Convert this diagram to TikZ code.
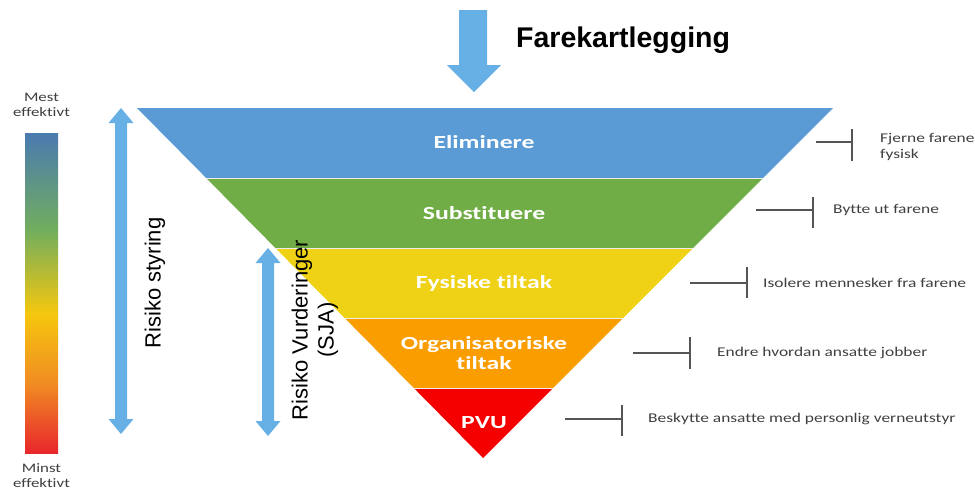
\documentclass[tikz,border=0pt]{standalone}
\usepackage{fontspec}
\setmainfont{Liberation Sans}
\newfontfamily\calfont[FakeStretch=1.3,Ligatures=NoCommon]{Carlito}
\newfontfamily\calbfont[FakeStretch=1.39,Ligatures=NoCommon]{Carlito}
\definecolor{arrowblue}{HTML}{66B0E6}
\definecolor{lblue}{HTML}{5B9BD5}
\definecolor{lgreen}{HTML}{70AD47}
\definecolor{lyellow}{HTML}{EFD215}
\definecolor{lorange}{HTML}{FA9D00}
\definecolor{lred}{HTML}{F50000}
\definecolor{gblue}{HTML}{4A7AB0}
\definecolor{ggreen}{HTML}{72AE5E}
\definecolor{gyellow}{HTML}{F5C70E}
\definecolor{gorange}{HTML}{F08A24}
\definecolor{gred}{HTML}{E8262B}
\definecolor{txtgray}{HTML}{3F3F3F}
\definecolor{tickgray}{HTML}{555555}
\tikzset{
  layertext/.style={text=white,font=\calbfont\bfseries\fontsize{18.5}{20}\selectfont,align=center,inner sep=0pt},
  sidetext/.style={text=txtgray,font=\calfont\fontsize{13.4}{16}\selectfont,anchor=west,align=left,inner sep=0pt},
  efftext/.style={text=txtgray,font=\calfont\fontsize{13}{15}\selectfont,align=center,inner sep=0pt},
  ticker/.style={draw=tickgray,line width=1.3pt},
  sep/.style={draw=white!85!gray,line width=1pt},
  blockarrow/.style={fill=arrowblue,draw=none},
  rotlabel/.style={font=\fontsize{22}{26}\selectfont,rotate=90,align=center,inner sep=0pt}
}
\begin{document}
\begin{tikzpicture}[x=1pt,y=-1pt]
\useasboundingbox (0,0) rectangle (975,491);
% top arrow
\fill[blockarrow] (459,10) -- (487,10) -- (487,65) -- (501,65) -- (474,92) -- (447,65) -- (459,65) -- cycle;
\node[font=\bfseries\fontsize{28.5}{32}\selectfont,anchor=west,inner sep=0pt] (title) at (516,40) {Farekartlegging};
% layers
\fill[lblue] (137,108) -- (833,108) -- (763,178) -- (206.2,178) -- cycle;
\fill[lgreen] (206.2,178) -- (763,178) -- (693,248) -- (275.4,248) -- cycle;
\fill[lyellow] (275.4,248) -- (693,248) -- (623,318) -- (344.6,318) -- cycle;
\fill[lorange] (344.6,318) -- (623,318) -- (553,388) -- (413.8,388) -- cycle;
\fill[lred] (413.8,388) -- (553,388) -- (483,458) -- cycle;
\draw[sep] (206.2,178) -- (763,178);
\draw[sep] (275.4,248) -- (693,248);
\draw[sep] (344.6,318) -- (623,318);
\draw[sep] (413.8,388) -- (553,388);
\node[layertext] (elim) at (484,142) {Eliminere};
\node[layertext] (subst) at (484,213) {Substituere};
\node[layertext] (fys) at (484,283) {Fysiske tiltak};
\node[layertext] (org) at (484,353) {Organisatoriske\\tiltak};
\node[layertext] (pvu) at (484,423) {PVU};
% right side labels
\coordinate (a1) at (816,142); \coordinate (b1) at (852,142);
\draw[ticker] (a1) -- (b1); \draw[ticker] (852,129) -- (852,161);
\node[sidetext] (t1) at (880,147) {Fjerne farene\\fysisk};
\coordinate (a2) at (756,210); \coordinate (b2) at (813,210);
\draw[ticker] (a2) -- (b2); \draw[ticker] (813,197) -- (813,228);
\node[sidetext] (t2) at (833,210) {Bytte ut farene};
\coordinate (a3) at (690,283); \coordinate (b3) at (747,283);
\draw[ticker] (a3) -- (b3); \draw[ticker] (747,267) -- (747,298);
\node[sidetext] (t3) at (763,283) {Isolere mennesker fra farene};
\coordinate (a4) at (633,353); \coordinate (b4) at (690,353);
\draw[ticker] (a4) -- (b4); \draw[ticker] (690,337) -- (690,369);
\node[sidetext] (t4) at (717,353) {Endre hvordan ansatte jobber};
\coordinate (a5) at (565,419); \coordinate (b5) at (622,419);
\draw[ticker] (a5) -- (b5); \draw[ticker] (622,405) -- (622,436);
\node[sidetext] (t5) at (648,419) {Beskytte ansatte med personlig verneutstyr};
% effect bar
\shade[top color=gblue,bottom color=ggreen] (25,133) rectangle (58,230.5);
\shade[top color=ggreen,bottom color=gyellow] (25,230) rectangle (58,313.5);
\shade[top color=gyellow,bottom color=gorange] (25,313) rectangle (58,385.5);
\shade[top color=gorange,bottom color=gred] (25,385) rectangle (58,453);
\node[efftext] (mest) at (41.5,105) {Mest\\effektivt};
\node[efftext] (minst) at (41.5,476) {Minst\\effektivt};
% double arrows
\fill[blockarrow] (121,108) -- (133.5,123) -- (127,123) -- (127,419) -- (133.5,419) -- (121,434) -- (108.5,419) -- (115,419) -- (115,123) -- (108.5,123) -- cycle;
\fill[blockarrow] (268,248) -- (280.5,263) -- (274,263) -- (274,421) -- (280.5,421) -- (268,436) -- (255.5,421) -- (262,421) -- (262,263) -- (255.5,263) -- cycle;
\node[rotlabel] (styr) at (155,283) {Risiko styring};
\node[rotlabel] (vurd) at (315,330) {Risiko Vurderinger\\(SJA)};
\end{tikzpicture}
\end{document}
